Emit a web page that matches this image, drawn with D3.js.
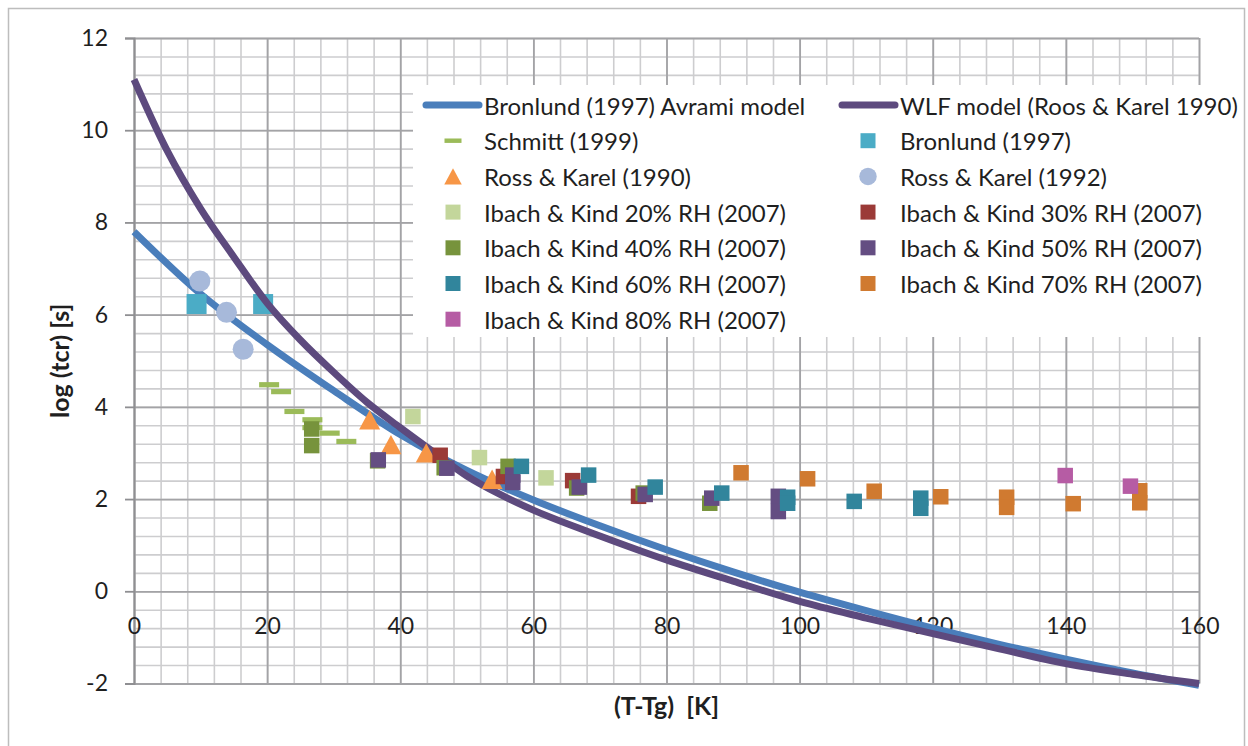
<!DOCTYPE html>
<html>
<head>
<meta charset="utf-8">
<script src="https://cdn.jsdelivr.net/npm/d3@7"></script>
<style>
  html, body { margin: 0; padding: 0; background: #fff; }
  svg { display: block; font-family: Lato, "Open Sans", sans-serif; }
</style>
</head>
<body>
<svg id="chart" width="1248" height="746"></svg>
<script>
// ---- Axis ticks ----
const xTicks = [0, 20, 40, 60, 80, 100, 120, 140, 160];
const yTicks = [-2, 0, 2, 4, 6, 8, 10, 12];

// ---- Model curves: (T-Tg) and log(tcr) ----
const avramiX = [0, 10, 20, 30, 40, 50, 60, 70, 80, 90, 100, 110, 120, 130, 140, 150, 160];
const avramiY = [7.8, 6.45, 5.35, 4.35, 3.4, 2.62, 1.98, 1.42, 0.9, 0.42, -0.02, -0.42, -0.8, -1.15, -1.47, -1.77, -2.04];

const wlfX = [0, 5, 10, 15, 20, 25, 30, 35, 40, 45, 50, 55, 60, 70, 80, 90, 100, 110, 120, 130, 140, 150, 160];
const wlfY = [11.1, 9.55, 8.3, 7.25, 6.25, 5.45, 4.75, 4.1, 3.55, 3.02, 2.5, 2.1, 1.76, 1.2, 0.68, 0.22, -0.22, -0.58, -0.92, -1.25, -1.57, -1.8, -2.0];

// ---- Measured points [T-Tg, log(tcr)] ----
const schmitt1999 = [[20.3, 4.48], [22.1, 4.33], [24.1, 3.9], [26.8, 3.72], [26.8, 3.55], [29.4, 3.43], [31.9, 3.25]];
const bronlund1997 = [[9.4, 6.23], [19.4, 6.23]];
const rossKarel1990 = [[35.4, 3.72], [38.6, 3.18], [43.9, 3.0], [53.8, 2.43]];
const rossKarel1992 = [[9.9, 6.73], [13.9, 6.05], [16.4, 5.25]];
const ibach20 = [[41.9, 3.79], [51.9, 2.9], [61.9, 2.46]];
const ibach30 = [[46.0, 2.95], [55.5, 2.49], [65.9, 2.4], [75.8, 2.06]];
const ibach40 = [[26.7, 3.52], [26.7, 3.16], [36.6, 2.83], [46.6, 2.68], [56.2, 2.71], [66.5, 2.24], [76.5, 2.13], [86.5, 1.91]];
const ibach50 = [[36.7, 2.85], [47.0, 2.67], [56.9, 2.52], [56.9, 2.36], [66.9, 2.26], [76.8, 2.1], [86.8, 2.02], [96.8, 2.06], [96.8, 1.73]];
const ibach60 = [[58.2, 2.71], [68.3, 2.52], [78.3, 2.26], [88.3, 2.13], [98.2, 2.04], [98.2, 1.91], [108.2, 1.95], [118.2, 2.02], [118.2, 1.8]];
const ibach70 = [[91.2, 2.57], [101.2, 2.44], [111.2, 2.17], [121.2, 2.05], [131.1, 2.04], [131.1, 1.82], [141.1, 1.9], [151.1, 2.18], [151.1, 1.92]];
const ibach80 = [[139.9, 2.51], [149.7, 2.28]];

const svg = d3.select("#chart");
const textColor = "#1f1f1f";
const tickFont = "23px";
const legendFont = "24px";
const titleFont = "25px";

const plot = { left: 134, right: 1199, top: 38, bottom: 683.5 };
const x = d3.scaleLinear().domain([0, 160]).range([plot.left, plot.right]);
const y = d3.scaleLinear().domain([-2, 12]).range([plot.bottom, plot.top]);

// outer chart frame
svg.append("rect")
  .attr("x", 8.5).attr("y", 8.5)
  .attr("width", 1236).attr("height", 780)
  .attr("fill", "none").attr("stroke", "#bdbdbd").attr("stroke-width", 1.5);

// ---- Gridlines ----
const xMinor = d3.range(0, 41).map(i => i * 4);
const yMinor = d3.range(0, 36).map(i => -2 + i * 0.4);
const grid = svg.append("g");

function gridLines(axisFn, scale, values, size, color, width, transform) {
  const g = grid.append("g").attr("transform", transform)
    .call(axisFn(scale).tickValues(values).tickSize(size).tickFormat(""));
  g.select(".domain").remove();
  g.selectAll(".tick line").attr("stroke", color).attr("stroke-width", width);
}
const ph = plot.bottom - plot.top, pw = plot.right - plot.left;
gridLines(d3.axisBottom, x, xMinor, -ph, "#cdcdcf", 1.6, `translate(0,${plot.bottom})`);
gridLines(d3.axisLeft, y, yMinor, -pw, "#cdcdcf", 1.6, `translate(${plot.left},0)`);
gridLines(d3.axisBottom, x, xTicks, -ph, "#a3a3a6", 1.8, `translate(0,${plot.bottom})`);
gridLines(d3.axisLeft, y, yTicks, -pw, "#a3a3a6", 1.8, `translate(${plot.left},0)`);

// ---- Y axis ----
const yAxis = svg.append("g").attr("transform", `translate(${plot.left},0)`)
  .call(d3.axisLeft(y).tickValues(yTicks).tickSize(9).tickPadding(17).tickFormat(d => String(d)));
yAxis.select(".domain").attr("stroke", "#8f8f92").attr("stroke-width", 2);
yAxis.selectAll(".tick line").attr("stroke", "#8f8f92").attr("stroke-width", 1.8);
yAxis.selectAll(".tick text").attr("fill", textColor)
  .style("font-size", tickFont).style("font-family", "Lato, sans-serif");

// ---- X axis labels, placed below the zero line ----
const xAxis = svg.append("g").attr("transform", `translate(0,${y(0)})`)
  .call(d3.axisBottom(x).tickValues(xTicks).tickSize(0).tickFormat(d => String(d)));
xAxis.select(".domain").remove();
xAxis.selectAll(".tick text").attr("fill", textColor)
  .attr("y", 35).attr("dy", "0.35em")
  .style("font-size", tickFont).style("font-family", "Lato, sans-serif");

// ---- Axis titles ----
svg.append("text")
  .attr("x", (plot.left + plot.right) / 2).attr("y", 705)
  .attr("text-anchor", "middle").attr("dominant-baseline", "central")
  .attr("fill", textColor).style("font-weight", "bold").style("font-size", titleFont)
  .style("white-space", "pre")
  .text("(T-Tg)  [K]");

svg.append("text")
  .attr("transform", `translate(59,${(plot.top + plot.bottom) / 2}) rotate(-90)`)
  .attr("text-anchor", "middle").attr("dominant-baseline", "central")
  .attr("fill", textColor).style("font-weight", "bold").style("font-size", titleFont)
  .text("log (tcr) [s]");

// ---- Curves and markers ----
const line = d3.line().x(d => x(d[0])).y(d => y(d[1])).curve(d3.curveMonotoneX);
const avrami = avramiX.map((v, i) => [v, avramiY[i]]);
const wlf = wlfX.map((v, i) => [v, wlfY[i]]);

function drawMarker(g, type, cx, cy, color, s) {
  if (type === "square") {
    g.append("rect").attr("x", cx - s / 2).attr("y", cy - s / 2)
      .attr("width", s).attr("height", s).attr("fill", color);
  } else if (type === "circle") {
    g.append("circle").attr("cx", cx).attr("cy", cy).attr("r", s / 2).attr("fill", color);
  } else if (type === "triangle") {
    const h = s * 0.92;
    g.append("path")
      .attr("d", `M${cx},${cy - h / 2}L${cx + s / 2},${cy + h / 2}L${cx - s / 2},${cy + h / 2}Z`)
      .attr("fill", color);
  } else if (type === "dash") {
    g.append("rect").attr("x", cx - s / 2).attr("y", cy - s * 0.13)
      .attr("width", s).attr("height", s * 0.26).attr("fill", color);
  }
}

const series = [
  { name: "Schmitt (1999)", data: schmitt1999, type: "dash", color: "#9bbb59", size: 20, legend: [0, 1] },
  { name: "Bronlund (1997)", data: bronlund1997, type: "square", color: "#4bacc6", size: 20, legend: [1, 1] },
  { name: "Ross & Karel (1990)", data: rossKarel1990, type: "triangle", color: "#f79646", size: 21, legend: [0, 2] },
  { name: "Ross & Karel (1992)", data: rossKarel1992, type: "circle", color: "#a7b9da", size: 21, legend: [1, 2] },
  { name: "Ibach & Kind 20% RH (2007)", data: ibach20, type: "square", color: "#c3d69b", size: 15.5, legend: [0, 3] },
  { name: "Ibach & Kind 30% RH (2007)", data: ibach30, type: "square", color: "#9b3a37", size: 15.5, legend: [1, 3] },
  { name: "Ibach & Kind 40% RH (2007)", data: ibach40, type: "square", color: "#77933c", size: 15.5, legend: [0, 4] },
  { name: "Ibach & Kind 50% RH (2007)", data: ibach50, type: "square", color: "#644d82", size: 15.5, legend: [1, 4] },
  { name: "Ibach & Kind 60% RH (2007)", data: ibach60, type: "square", color: "#31859c", size: 15.5, legend: [0, 5] },
  { name: "Ibach & Kind 70% RH (2007)", data: ibach70, type: "square", color: "#d07a30", size: 15.5, legend: [1, 5] },
  { name: "Ibach & Kind 80% RH (2007)", data: ibach80, type: "square", color: "#b65ca4", size: 15.5, legend: [0, 6] }
];

function drawSeries(s) {
  const g = svg.append("g");
  s.data.forEach(d => drawMarker(g, s.type, x(d[0]), y(d[1]), s.color, s.size));
}

// Avrami curve sits underneath; WLF curve is layered above the first data sets
svg.append("path").datum(avrami).attr("d", line)
  .attr("fill", "none").attr("stroke", "#4a7ebb").attr("stroke-width", 7);
drawSeries(series[0]);
drawSeries(series[1]);
svg.append("path").datum(wlf).attr("d", line)
  .attr("fill", "none").attr("stroke", "#5d4a7e").attr("stroke-width", 7);
series.slice(2).forEach(drawSeries);

// ---- Legend ----
const legend = svg.append("g");
legend.append("rect").attr("x", 413).attr("y", 85).attr("width", 830).attr("height", 252).attr("fill", "#fff");

const colText = [484, 900];
const colSym = [453, 868];
const rowY = i => 105 + i * 35.7;

const legendLines = [
  { name: "Bronlund (1997) Avrami model", color: "#4a7ebb", col: 0, x1: 426, x2: 479 },
  { name: "WLF model (Roos & Karel 1990)", color: "#5d4a7e", col: 1, x1: 842, x2: 895 }
];
legendLines.forEach(l => {
  legend.append("line").attr("x1", l.x1).attr("x2", l.x2)
    .attr("y1", rowY(0)).attr("y2", rowY(0))
    .attr("stroke", l.color).attr("stroke-width", 7).attr("stroke-linecap", "round");
  legend.append("text").attr("x", colText[l.col]).attr("y", rowY(0))
    .attr("dominant-baseline", "central").attr("fill", textColor)
    .style("font-size", legendFont).text(l.name);
});

series.forEach(s => {
  const [col, row] = s.legend;
  const lsize = s.type === "square" ? 15 : (s.type === "dash" ? 17 : 17.5);
  drawMarker(legend, s.type, colSym[col], rowY(row), s.color, lsize);
  legend.append("text").attr("x", colText[col]).attr("y", rowY(row))
    .attr("dominant-baseline", "central").attr("fill", textColor)
    .style("font-size", legendFont).text(s.name);
});
</script>
</body>
</html>
